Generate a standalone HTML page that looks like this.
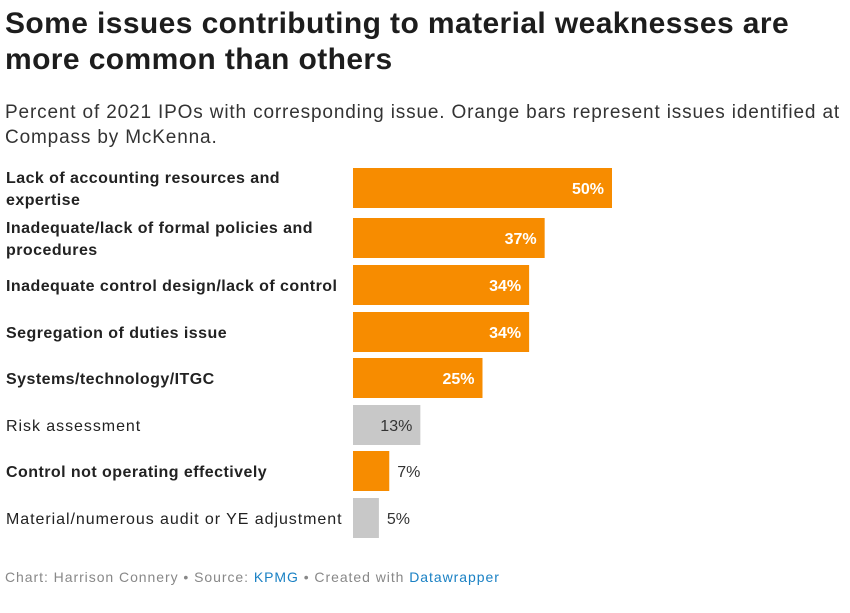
<!DOCTYPE html>
<html><head><meta charset="utf-8"><style>
body{margin:0;background:#fff;font-family:"Liberation Sans",sans-serif;width:850px;height:613px;position:relative;overflow:hidden}
#title{position:absolute;left:5px;top:6px;font-size:30px;font-weight:bold;line-height:36px;color:#1d1d1d;width:815px;letter-spacing:0.4px}
#sub{position:absolute;left:5px;top:100px;font-size:19px;line-height:25px;color:#333;width:845px;letter-spacing:0.85px}
#foot{position:absolute;left:5px;top:569px;font-size:14px;color:#888;letter-spacing:0.95px}
#foot span{color:#1a81c4}
svg{position:absolute;left:0;top:0}
</style></head><body>
<div id="title">Some issues contributing to material weaknesses are more common than others</div>
<div id="sub">Percent of 2021 IPOs with corresponding issue. Orange bars represent issues identified at Compass by McKenna.</div>
<svg id="chart" width="850" height="613"></svg>
<div id="foot">Chart: Harrison Connery • Source: <span>KPMG</span> • Created with <span>Datawrapper</span></div>
<script>
const categories=[["Lack of accounting resources and","expertise"],["Inadequate/lack of formal policies and","procedures"],["Inadequate control design/lack of control"],["Segregation of duties issue"],["Systems/technology/ITGC"],["Risk assessment"],["Control not operating effectively"],["Material/numerous audit or YE adjustment"]];
const values=[50,37,34,34,25,13,7,5];
const highlighted=[true,true,true,true,true,false,true,false];
const ns="http://www.w3.org/2000/svg";
const svg=document.getElementById('chart');
const x=v=>353+v*5.18;
const tops=[168,218,265,312,358,405,451,498];
const bh=40;
function mk(t,a){const e=document.createElementNS(ns,t);for(const k in a)e.setAttribute(k,a[k]);svg.appendChild(e);return e;}
values.forEach((v,i)=>{
  const y=tops[i];
  const r=mk('rect',{x:353,y:y,width:x(v)-353,height:bh,fill:highlighted[i]?'#f78c00':'#c8c8c8'});
  
  
  const lab=categories[i];
  const t=mk('text',{x:6,'font-size':16,'font-weight':highlighted[i]?'bold':'normal',fill:'#222','letter-spacing':highlighted[i]?0.45:0.95});
  
  
  lab.forEach((l,j)=>{const ts=document.createElementNS(ns,'tspan');ts.setAttribute('x',6);ts.setAttribute('y',y+bh/2+6+(j-(lab.length-1)/2)*22);ts.textContent=l;t.appendChild(ts);});
  const inside=v>=20;
  const vt=mk('text',{x:inside?x(v)-8:x(v)+8,y:y+bh/2+6,'font-size':16,'text-anchor':inside?'end':'start',fill:inside?'#fff':'#333','font-weight':inside?'bold':'normal'});
  
  
  vt.textContent=v+'%';
  if(!inside&&!highlighted[i]&&v>10){vt.setAttribute('x',x(v)-8);vt.setAttribute('text-anchor','end');}
});
</script>
</body></html>
